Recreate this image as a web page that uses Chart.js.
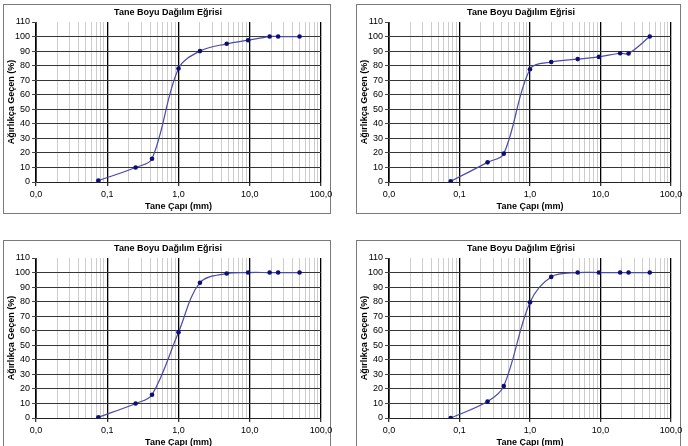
<!DOCTYPE html>
<html>
<head>
<meta charset="utf-8">
<script src="https://cdn.jsdelivr.net/npm/chart.js@4.4.0/dist/chart.umd.min.js"></script>
<style>
  html, body { margin: 0; padding: 0; background: #fff; width: 688px; height: 446px; overflow: hidden; }
  .cv { position: absolute; }
  .frame { position: absolute; border: 1px solid #7a7a7a; box-sizing: border-box; pointer-events: none; }
</style>
</head>
<body>
<div class="frame" style="left:3px;top:4px;width:328px;height:210px;"></div>
<div class="frame" style="left:356px;top:4px;width:325px;height:210px;"></div>
<div class="frame" style="left:3px;top:240px;width:328px;height:210px;"></div>
<div class="frame" style="left:356px;top:240px;width:325px;height:210px;"></div>
<canvas id="c1" class="cv" width="344" height="223" style="left:0;top:0;"></canvas>
<canvas id="c2" class="cv" width="344" height="223" style="left:344px;top:0;"></canvas>
<canvas id="c3" class="cv" width="344" height="223" style="left:0;top:236px;"></canvas>
<canvas id="c4" class="cv" width="344" height="223" style="left:344px;top:236px;"></canvas>
<script>
// ---- Data ----
const chartTitle = 'Tane Boyu Dağılım Eğrisi';
const xAxisTitle = 'Tane Çapı (mm)';
const yAxisTitle = 'Ağırlıkça Geçen (%)';
const sieveSizes = [0.075, 0.25, 0.425, 1.0, 2.0, 4.75, 9.5, 19, 25, 50];
const passing1 = [1, 10, 16, 78, 90, 95, 97.5, 100, 100, 100];
const passing2 = [0.5, 13.5, 19.5, 77.5, 82.5, 84.5, 86, 88.5, 88.3, 100];
const passing3 = [0.5, 10, 16, 59, 93, 99.3, 100, 100, 100, 100];
const passing4 = [0, 11.3, 22, 79.5, 97, 100, 100, 100, 100, 100];
const decades = [0.01, 0.1, 1, 10, 100];
const xTickLabels = ['0,0', '0,1', '1,0', '10,0', '100,0'];
const yTicks = [0, 10, 20, 30, 40, 50, 60, 70, 80, 90, 100, 110];

const FONT = "'Liberation Sans', Arial, sans-serif";

function isDecade(v) {
  const l = Math.log10(v);
  return Math.abs(l - Math.round(l)) < 1e-6;
}
function decadeIndex(v) {
  return decades.findIndex(d => Math.abs(Math.log10(d) - Math.log10(v)) < 1e-6);
}
const xGridValues = [];
decades.forEach((d, i) => {
  if (i === decades.length - 1) { xGridValues.push(d); return; }
  for (let m = 1; m <= 9; m++) xGridValues.push(d * m);
});

function makeChart(id, values, pad) {
  const ctx = document.getElementById(id);
  return new Chart(ctx, {
    type: 'line',
    data: {
      datasets: [{
        data: sieveSizes.map((s, i) => ({ x: s, y: values[i] })),
        borderColor: '#4a4aa8',
        borderWidth: 1.2,
        pointBackgroundColor: '#0d0d78',
        pointBorderColor: '#0d0d78',
        pointRadius: 2.3,
        pointBorderWidth: 0,
        tension: 0.35,
        fill: false
      }]
    },
    options: {
      responsive: false,
      animation: false,
      devicePixelRatio: 1,
      layout: { autoPadding: false, padding: { left: pad.left, right: pad.right, top: 5, bottom: 10 } },
      plugins: {
        legend: { display: false },
        tooltip: { enabled: false },
        title: {
          display: true,
          text: chartTitle,
          color: '#000',
          font: { family: FONT, size: 9, weight: 'bold' },
          padding: { top: 2.3, bottom: 3.9 }
        }
      },
      scales: {
        x: {
          type: 'logarithmic',
          min: 0.01,
          max: 100,
          afterBuildTicks: (s) => { s.ticks = xGridValues.map(v => ({ value: v })); },
          afterFit: (s) => { s.height = 31; s.paddingLeft = 0; s.paddingRight = 0; },
          ticks: {
            autoSkip: false,
            maxRotation: 0,
            minRotation: 0,
            padding: 3,
            color: '#000',
            font: { family: FONT, size: 9 },
            callback: (v) => isDecade(v) ? xTickLabels[decadeIndex(v)] : ''
          },
          grid: {
            drawTicks: true,
            tickLength: 4,
            color: (c) => (c.tick && isDecade(c.tick.value)) ? '#000' : '#cdcdcd',
            lineWidth: (c) => (c.tick && isDecade(c.tick.value)) ? 1.3 : 1,
            tickColor: (c) => (c.tick && isDecade(c.tick.value)) ? '#333' : 'rgba(0,0,0,0)'
          },
          border: { color: '#222', width: 1 },
          title: {
            display: true,
            text: xAxisTitle,
            color: '#000',
            font: { family: FONT, size: 9, weight: 'bold' },
            padding: { top: 0, bottom: 1 }
          }
        },
        y: {
          type: 'linear',
          min: 0,
          max: 110,
          afterBuildTicks: (s) => { s.ticks = yTicks.map(v => ({ value: v })); },
          afterFit: (s) => { s.width = pad.yWidth; s.paddingTop = 0; s.paddingBottom = 0; },
          ticks: {
            padding: 2,
            color: '#000',
            font: { family: FONT, size: 9 }
          },
          grid: {
            drawTicks: true,
            tickLength: 4,
            color: (c) => (c.tick && c.tick.value === 110) ? 'rgba(0,0,0,0)' : '#363636',
            lineWidth: 1,
            tickColor: '#444'
          },
          border: { color: '#444', width: 1 },
          title: {
            display: true,
            text: yAxisTitle,
            color: '#000',
            font: { family: FONT, size: 9, weight: 'bold' },
            padding: { top: 2.3, bottom: 0 }
          }
        },
        yR: {
          type: 'linear',
          position: 'right',
          display: true,
          min: 0,
          max: 110,
          afterFit: (s) => { s.width = pad.rightGap; s.paddingTop = 0; s.paddingBottom = 0; },
          ticks: { display: false },
          grid: { display: false, drawTicks: false },
          border: { display: false },
          title: { display: false }
        }
      }
    }
  });
}

const leftPad = { left: 4, right: 12, rightGap: 11, yWidth: 32 };
const rightPad = { left: 13, right: 3, rightGap: 14, yWidth: 32 };
makeChart('c1', passing1, leftPad);
makeChart('c2', passing2, rightPad);
makeChart('c3', passing3, leftPad);
makeChart('c4', passing4, rightPad);
</script>
</body>
</html>
